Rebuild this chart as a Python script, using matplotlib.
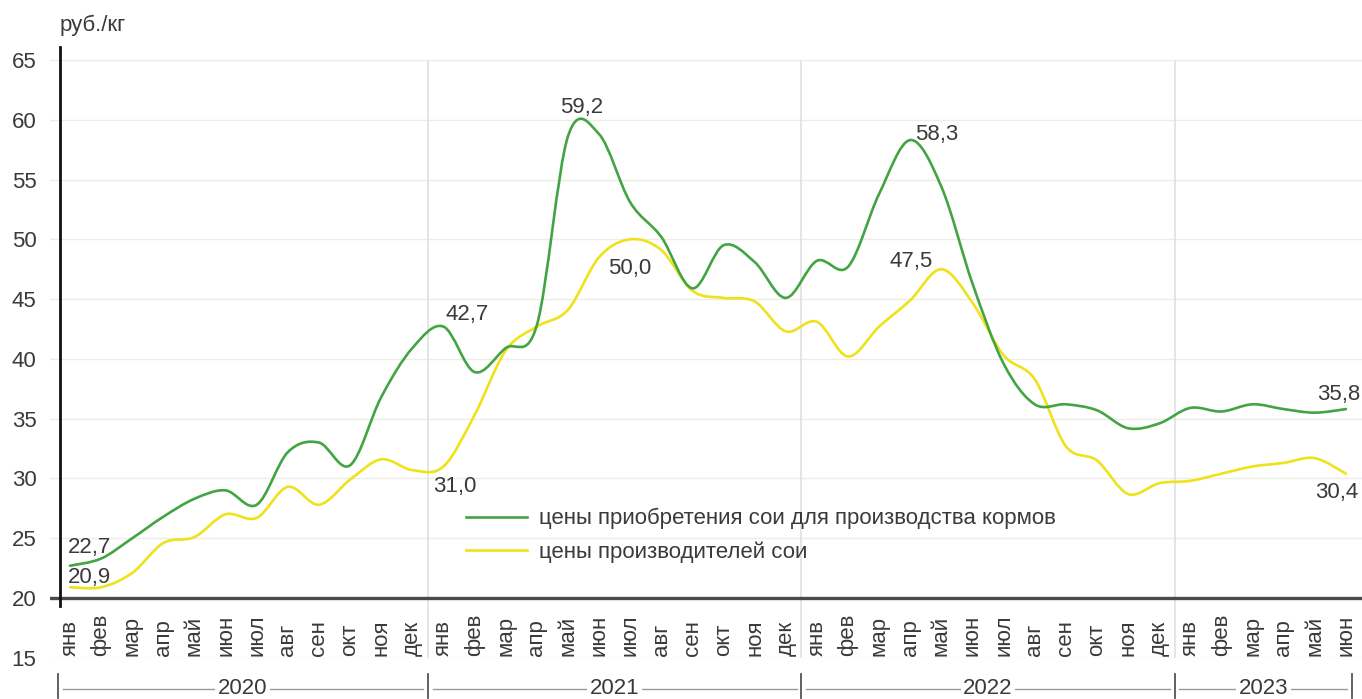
import numpy as np
import matplotlib
matplotlib.use("Agg")
import matplotlib.pyplot as plt
from matplotlib.path import Path
from matplotlib.patches import PathPatch
from matplotlib.lines import Line2D

plt.rcParams['font.family'] = ['Liberation Sans', 'DejaVu Sans']

# ---------------- data ----------------
months = ["янв", "фев", "мар", "апр", "май", "июн",
          "июл", "авг", "сен", "окт", "ноя", "дек"] * 3 + \
         ["янв", "фев", "мар", "апр", "май", "июн"]
years = ["2020", "2021", "2022", "2023"]
year_spans = [(-0.39, 11.5), (11.5, 23.5), (23.5, 35.5), (35.5, 41.2)]

feed_prices = [22.7, 23.3, 25.0, 26.8, 28.3, 29.0, 27.8, 32.2, 33.0, 31.1, 36.8, 40.9,
               42.7, 38.9, 40.9, 42.8, 58.6, 58.8, 53.1, 50.2, 45.9, 49.5, 48.1, 45.1,
               48.2, 47.7, 53.8, 58.3, 54.4, 46.3, 39.6, 36.2, 36.2, 35.7, 34.2, 34.6,
               35.9, 35.6, 36.2, 35.8, 35.5, 35.8]
producer_prices = [20.9, 20.9, 22.1, 24.6, 25.1, 27.0, 26.7, 29.3, 27.8, 29.9, 31.6, 30.7,
                   31.0, 35.3, 40.7, 42.7, 44.1, 48.5, 50.0, 49.1, 45.7, 45.1, 44.8, 42.3,
                   43.1, 40.2, 42.7, 44.9, 47.5, 44.7, 40.3, 38.3, 32.7, 31.5, 28.7, 29.6,
                   29.8, 30.4, 31.0, 31.3, 31.7, 30.4]
series_labels = ["цены приобретения сои для производства кормов",
                 "цены производителей сои"]
yticks = [15, 20, 25, 30, 35, 40, 45, 50, 55, 60, 65]

# labelled points: (index, text, offset px, ha)
green_labels = [(0, "22,7", (-2, 18), "left"), (12, "42,7", (2, 12), "left"),
                (16, "59,2", (14, 29), "center"), (27, "58,3", (5, 6), "left"),
                (41, "35,8", (14, 15), "right")]
yellow_labels = [(0, "20,9", (-2, 10), "left"), (12, "31,0", (-10, -20), "left"),
                 (18, "50,0", (0, -29), "center"), (28, "47,5", (-9, 8), "right"),
                 (41, "30,4", (12, -19), "right")]

GREEN = "#43a443"
YELLOW = "#efe21a"
TXT = "#3a3a3a"
FS = 16

# ---------------- figure ----------------
W, H = 1362, 699
fig = plt.figure(figsize=(W / 100, H / 100), dpi=100)
L, R, T, B = 50, 1362, 46.8, 657.8
ax = fig.add_axes([L / W, 1 - B / H, (R - L) / W, (B - T) / H])

x = np.arange(len(months))
px_per_m = 31.12
ax.set_xlim((L - 70) / px_per_m, (R - 70) / px_per_m)
ax.set_ylim(15, 66.1)


def smooth_path(xs, ys):
    pts = np.column_stack([xs, ys]).astype(float)
    ext = np.vstack([pts[0], pts, pts[-1]])
    verts = [pts[0]]
    codes = [Path.MOVETO]
    for i in range(len(pts) - 1):
        p0, p1, p2, p3 = ext[i], ext[i + 1], ext[i + 2], ext[i + 3]
        c1 = p1 + (p2 - p0) / 6.0
        c2 = p2 - (p3 - p1) / 6.0
        verts += [c1, c2, p2]
        codes += [Path.CURVE4] * 3
    return Path(verts, codes)


# grid lines
for yv in yticks:
    ax.axhline(yv, color="#efebe6", lw=1.0, zorder=0)
# year separators
for a, b in year_spans[1:]:
    ax.vlines(a, 15, 65, color="#e0e0e0", lw=1.2, zorder=0.5)

# x axis line at 20
ax.axhline(20, color="#4a4a4a", lw=2.4, zorder=3)

# series
ax.add_patch(PathPatch(smooth_path(x, producer_prices), fill=False,
                       edgecolor=YELLOW, lw=1.9, zorder=4, capstyle="round"))
ax.add_patch(PathPatch(smooth_path(x, feed_prices), fill=False,
                       edgecolor=GREEN, lw=1.9, zorder=5, capstyle="round"))

# value labels
for idx, txt, off, ha in green_labels:
    ax.annotate(txt, (x[idx], feed_prices[idx]), xytext=off, textcoords="offset pixels",
                ha=ha, va="center", fontsize=FS, color=TXT, zorder=6)
for idx, txt, off, ha in yellow_labels:
    ax.annotate(txt, (x[idx], producer_prices[idx]), xytext=off, textcoords="offset pixels",
                ha=ha, va="center", fontsize=FS, color=TXT, zorder=6)

# month labels inside the axes, above 15 line
xt = ax.get_xaxis_transform()
for i, m in enumerate(months):
    ax.text(x[i], 0.003, m, rotation=90, ha="center", va="bottom",
            fontsize=FS, color=TXT, transform=xt)

# year brackets below
y_line = -(689 - B) / (B - T)
y_top = -(674 - B) / (B - T)
y_bot = -(698 - B) / (B - T)
for (a, b), yr in zip(year_spans, years):
    ax.plot([a + 0.15, b - 0.15], [y_line, y_line], transform=xt, clip_on=False,
            color="#9a9a9a", lw=1.0)
    ax.text((a + b) / 2, y_line, yr, transform=xt, ha="center", va="center",
            fontsize=FS, color=TXT, clip_on=False,
            bbox=dict(facecolor="white", edgecolor="none", pad=2))
for a in [s[0] for s in year_spans] + [year_spans[-1][1]]:
    ax.plot([a, a], [y_bot, y_top], transform=xt, clip_on=False,
            color="#555555", lw=1.3)

# spines / ticks
for s in ["top", "right", "bottom"]:
    ax.spines[s].set_visible(False)
ax.spines["left"].set_position(("data", (60 - 70) / px_per_m))
ax.spines["left"].set_bounds(19.3, 66.1)
ax.spines["left"].set_linewidth(2.0)
ax.spines["left"].set_color("#111111")
ax.spines["left"].set_zorder(6)
ax.set_xticks([])
ax.set_yticks(yticks)
ax.set_yticklabels([str(v) for v in yticks])
ax.tick_params(axis="y", length=0, pad=17, labelsize=FS, labelcolor=TXT)

fig.text(60 / W, 1 - 25 / H, "руб./кг", ha="left", va="center", fontsize=FS, color=TXT)

handles = [Line2D([], [], color=GREEN, lw=1.9), Line2D([], [], color=YELLOW, lw=1.9)]
ax.legend(handles, series_labels, loc="upper left", frameon=False,
          bbox_to_anchor=(466 / W, 1 - 508 / H), bbox_transform=fig.transFigure,
          borderaxespad=0, borderpad=0, handlelength=2.75, handletextpad=0.55,
          labelspacing=0.54, fontsize=FS, labelcolor=TXT)

fig.savefig("out.png", dpi=100, facecolor="white")
